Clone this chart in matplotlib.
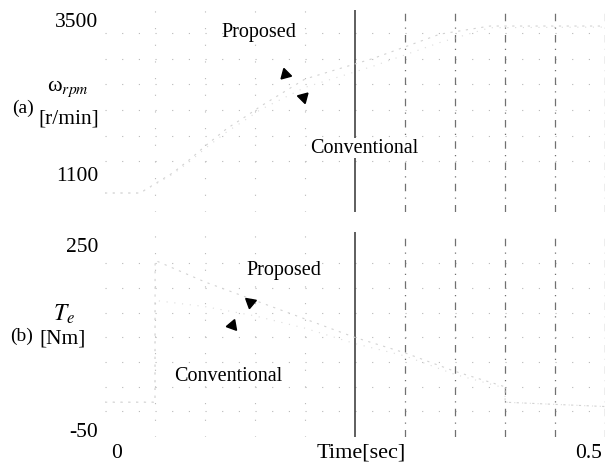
import numpy as np
import matplotlib
matplotlib.use("Agg")
import matplotlib.pyplot as plt

plt.rcParams['font.family'] = ['Liberation Serif', 'DejaVu Serif']
plt.rcParams['mathtext.fontset'] = 'stix'

# ---- data ----
t_speed = [0.0, 0.035, 0.068, 0.085, 0.102, 0.122, 0.142, 0.155, 0.2, 0.268, 0.335, 0.385, 0.5]
speed_proposed = [804, 804, 1120, 1330, 1560, 1810, 2010, 2150, 2580, 2900, 3280, 3406, 3406]
speed_conventional = [804, 804, 1100, 1300, 1520, 1760, 1960, 2100, 2450, 2780, 3150, 3380, 3390]

t_torque = [0.0, 0.05, 0.0501, 0.1, 0.15, 0.2, 0.25, 0.3, 0.35, 0.4, 0.4001, 0.5]
torque_proposed = [-5, -5, 225, 190, 160, 130, 100, 75, 45, 20, -5, -12]
torque_conventional = [-5, -5, 160, 150, 135, 115, 90, 70, 40, 18, -5, -12]

speed_ticks = [1100, 3500]
torque_ticks = [-50, 250]
speed_grid = [1300, 1700, 2100, 2500, 2900, 3300]
torque_grid = [-20, 20, 60, 100, 140, 180, 220]
faint_vlines = [0.05, 0.1, 0.15, 0.2]
solid_vline = 0.25
dashed_vlines = [0.3, 0.35, 0.4, 0.45, 0.5]

W, H = 612, 472
fig = plt.figure(figsize=(W / 100, H / 100), dpi=100)

def ax_rect(x0, y0, x1, y1):
    return [x0 / W, 1 - y1 / H, (x1 - x0) / W, (y1 - y0) / H]

ax1 = fig.add_axes(ax_rect(105, 10, 605, 212))
ax2 = fig.add_axes(ax_rect(105, 232, 605, 437))

ax1.set_ylim(508, 3656)
ax2.set_ylim(-61.4, 271)

for ax, grid_vals, ticks in ((ax1, speed_grid, speed_ticks), (ax2, torque_grid, torque_ticks)):
    ax.set_xlim(0, 0.5)
    for s in ax.spines.values():
        s.set_visible(False)
    ax.set_xticks([])
    ax.set_yticks(ticks)
    ax.set_yticklabels([str(v) for v in ticks], fontsize=15.5)
    ax.tick_params(axis='y', length=0, pad=5)
    for g in grid_vals:
        ax.axhline(g, color='#b8b8b8', lw=0.8, ls=(0, (1, 14)))
    for v in faint_vlines:
        ax.axvline(v, color='#b8b8b8', lw=0.8, ls=(0, (1, 14)))
    ax.axvline(solid_vline, color='#333333', lw=1.1)
    for v in dashed_vlines:
        ax.axvline(v, color='#707070', lw=0.9, ls=(0, (6, 5, 1, 5)))

ax1.plot(t_speed, speed_proposed, color='#d2d2d2', lw=0.8, ls=(0, (2, 5)))
ax1.plot(t_speed, speed_conventional, color='#dcdcdc', lw=0.8, ls=(0, (1, 6)))
ax2.plot(t_torque, torque_proposed, color='#d2d2d2', lw=0.8, ls=(0, (2, 5)))
ax2.plot(t_torque, torque_conventional, color='#dcdcdc', lw=0.8, ls=(0, (1, 6)))

# annotations
ax1.text(0.154, 3313, "Proposed", fontsize=14.5, ha='center', va='center')
ax1.text(0.259, 1505, "Conventional", fontsize=14.5, ha='center', va='center',
         bbox=dict(facecolor='white', edgecolor='none', pad=0.5))
ax1.plot([0.180], [2660], marker=(3, 0, 15), color='black', ms=9)
ax1.plot([0.198], [2300], marker=(3, 0, 195), color='black', ms=9)

ax2.text(0.179, 209, "Proposed", fontsize=14.5, ha='center', va='center',
         bbox=dict(facecolor='white', edgecolor='none', pad=0.5))
ax2.text(0.123, 37, "Conventional", fontsize=14.5, ha='center', va='center',
         bbox=dict(facecolor='white', edgecolor='none', pad=0.5))
ax2.plot([0.145], [157], marker=(3, 0, -70), color='black', ms=9)
ax2.plot([0.127], [120], marker=(3, 0, 100), color='black', ms=9)

# axis labels
fig.text(12 / W, 1 - 108 / H, "(a)", fontsize=14, va='center', ha='left')
fig.text(68 / W, 1 - 89 / H, r"ω$_{rpm}$", fontsize=16, va='center', ha='center')
fig.text(69 / W, 1 - 119 / H, "[r/min]", fontsize=15.5, va='center', ha='center')
fig.text(10 / W, 1 - 336 / H, "(b)", fontsize=14, va='center', ha='left')
fig.text(64 / W, 1 - 314 / H, r"$T_e$", fontsize=17, va='center', ha='center')
fig.text(63 / W, 1 - 339 / H, "[Nm]", fontsize=15.5, va='center', ha='center')

fig.text(117 / W, 1 - 453 / H, "0", fontsize=15.5, va='center', ha='center')
fig.text(589 / W, 1 - 453 / H, "0.5", fontsize=15.5, va='center', ha='center')
fig.text(361 / W, 1 - 453 / H, "Time[sec]", fontsize=16, va='center', ha='center')

fig.savefig("out.png", dpi=100, facecolor='white')
